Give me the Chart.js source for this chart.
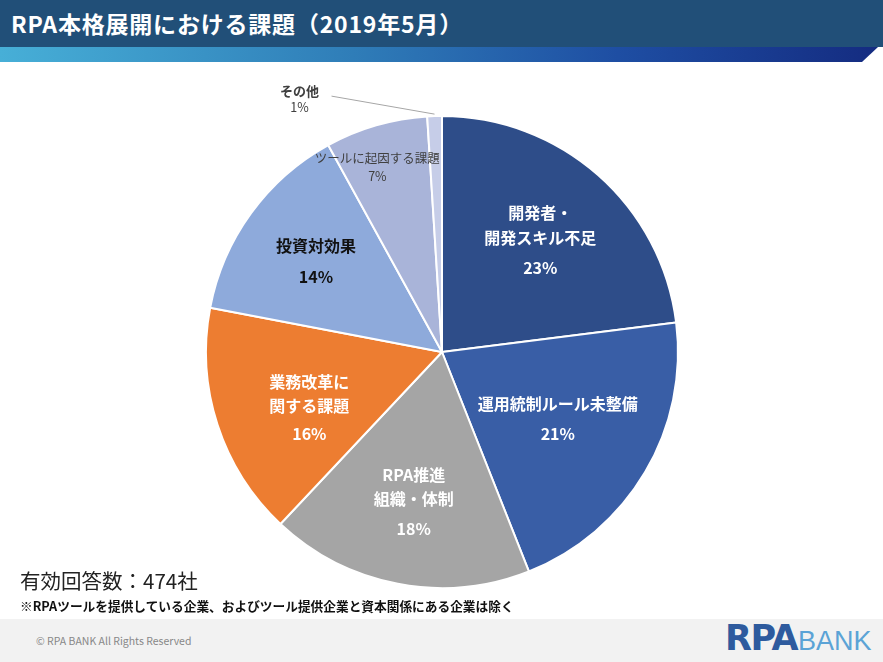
<!DOCTYPE html>
<html lang="ja">
<head>
<meta charset="utf-8">
<script src="https://cdn.jsdelivr.net/npm/chart.js@4.4.1/dist/chart.umd.min.js"></script>
<style>
  html, body { margin:0; padding:0; width:883px; height:662px; overflow:hidden; background:#fff;
    font-family:"Noto Sans CJK JP","Noto Sans",sans-serif; }
  #hdr { position:absolute; left:0; top:0; width:883px; height:47px; background:#214F78; }
  #title { position:absolute; left:11px; top:6px; color:#fff; font-weight:bold; font-size:23px;
    letter-spacing:0.8px; line-height:34px; white-space:nowrap; }
  #stripe { position:absolute; left:0; top:47px; width:883px; height:15px;
    background:linear-gradient(to right,#47AFD7 0%,#2F7DB8 40%,#1E4EA3 70%,#142B80 100%);
    clip-path:polygon(0 0,878px 0,862px 15px,0 15px); }
  #wrap { position:absolute; left:0; top:70px; width:883px; height:530px; }
  #note1 { position:absolute; left:20px; top:565px; font-size:20.5px; color:#222; white-space:nowrap; }
  #note2 { position:absolute; left:20px; top:596px; font-size:12.7px; font-weight:bold; color:#111; white-space:nowrap; }
  #footer { position:absolute; left:0; top:619px; width:883px; height:43px; background:#F2F2F2; }
  #copy { position:absolute; left:36px; top:633px; font-size:10.5px; color:#888; white-space:nowrap; }
  #logo { position:absolute; left:725px; top:618px; white-space:nowrap; }
  #logo .r { font-family:"DejaVu Sans",sans-serif; font-weight:bold; font-size:35px; color:#2E5B9E; letter-spacing:-1.5px; }
  #logo .b { font-family:"Liberation Sans",sans-serif; font-size:27px; color:#5BA3D6; margin-left:1px; }
</style>
</head>
<body>
<div id="hdr"></div>
<div id="title">RPA本格展開における課題（2019年5月）</div>
<div id="stripe"></div>
<div id="wrap"><canvas id="c"></canvas></div>
<div id="note1">有効回答数：474社</div>
<div id="note2">※RPAツールを提供している企業、およびツール提供企業と資本関係にある企業は除く</div>
<div id="footer"></div>
<div id="copy">© RPA BANK All Rights Reserved</div>
<div id="logo"><span class="r">RPA</span><span class="b">BANK</span></div>
<script>
// ---- data ----
const categories = [
  '開発者・\n開発スキル不足',
  '運用統制ルール未整備',
  'RPA推進\n組織・体制',
  '業務改革に\n関する課題',
  '投資対効果',
  'ツールに起因する課題',
  'その他'
];
const values = [23, 21, 18, 16, 14, 7, 1];
const percentLabels = ['23%', '21%', '18%', '16%', '14%', '7%', '1%'];

// ---- styles ----
const colors = ['#2E4D89', '#395EA6', '#A5A5A5', '#ED7D31', '#8EAADB', '#A9B4D9', '#C6CDE8'];
const labelStyle = [
  { r: 0.63, dx: 0, dy: 0, color: '#fff', size: 16, bold: true, lh: 25, gap: 30 },
  { r: 0.57, dx: 0, dy: -2, color: '#fff', size: 16, bold: true, lh: 25, gap: 30 },
  { r: 0.64, dx: 0, dy: 2, color: '#fff', size: 16, bold: true, lh: 24, gap: 30 },
  { r: 0.60, dx: 2, dy: 12, color: '#fff', size: 16, bold: true, lh: 24, gap: 28 },
  { r: 0.66, dx: 0, dy: 1, color: '#111', size: 16, bold: true, lh: 24, gap: 31 },
  { r: 0.83, dx: -10, dy: 3, color: '#404040', size: 12.5, bold: false, lh: 18, gap: 18 },
  { outside: true, color: '#404040', size: 13, bold: true, lh: 18, gap: 20 }
];

const labelPlugin = {
  id: 'sliceLabels',
  afterDatasetsDraw(chart) {
    const ctx = chart.ctx;
    const meta = chart.getDatasetMeta(0);
    meta.data.forEach((arc, i) => {
      const st = labelStyle[i];
      const p = arc.getProps(['x', 'y', 'startAngle', 'endAngle', 'outerRadius'], true);
      const mid = (p.startAngle + p.endAngle) / 2;
      const lines = categories[i].split('\n');
      ctx.save();
      ctx.fillStyle = st.color;
      ctx.textAlign = 'center';
      ctx.textBaseline = 'middle';
      ctx.font = (st.bold ? 'bold ' : '') + st.size + 'px "Noto Sans CJK JP", sans-serif';
      if (st.outside) {
        const ex = p.x + Math.cos(mid) * (p.outerRadius + 2);
        const ey = p.y + Math.sin(mid) * (p.outerRadius + 2);
        const lx = ex - 103, ly = ey - 18;
        ctx.strokeStyle = '#A6A6A6';
        ctx.lineWidth = 1;
        ctx.beginPath();
        ctx.moveTo(ex, ey);
        ctx.lineTo(lx, ly);
        ctx.stroke();
        const cx = lx - 32, cy = ly + 2;
        ctx.fillText(lines[0], cx, cy - 7);
        ctx.font = '12.5px "Noto Sans CJK JP", sans-serif';
        ctx.fillText(percentLabels[i], cx, cy + 9);
        ctx.restore();
        return;
      }
      const cx = p.x + Math.cos(mid) * p.outerRadius * st.r + st.dx;
      const cy = p.y + Math.sin(mid) * p.outerRadius * st.r + st.dy;
      const total = (lines.length - 1) * st.lh + st.gap;
      const y = cy - total / 2;
      lines.forEach((ln, k) => { ctx.fillText(ln, cx, y + k * st.lh); });
      ctx.fillText(percentLabels[i], cx, y + (lines.length - 1) * st.lh + st.gap);
      ctx.restore();
    });
  }
};

new Chart(document.getElementById('c'), {
  type: 'pie',
  data: {
    labels: categories,
    datasets: [{
      data: values,
      backgroundColor: colors,
      borderColor: '#fff',
      borderWidth: 2
    }]
  },
  options: {
    responsive: true,
    maintainAspectRatio: false,
    animation: false,
    layout: { padding: { left: 205, right: 204, top: 45, bottom: 11 } },
    plugins: { legend: { display: false }, tooltip: { enabled: false } }
  },
  plugins: [labelPlugin]
});
</script>
</body>
</html>
